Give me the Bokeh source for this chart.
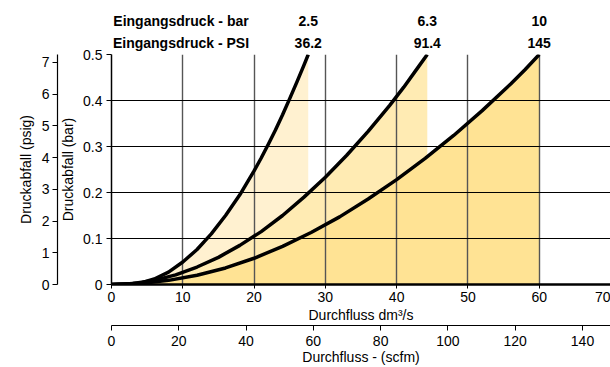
from bokeh.plotting import figure
from bokeh.models import Range1d, LinearAxis, FixedTicker
from bokeh.embed import file_html
from bokeh.resources import INLINE

# ---- data ----
flow_25 = [0, 2, 4, 6, 8, 10, 12, 14, 16, 18, 20, 21, 22, 23, 24, 25, 26, 27, 27.6]
drop_25 = [0, 0.001, 0.003, 0.012, 0.027, 0.049, 0.076, 0.110, 0.150, 0.195, 0.247,
           0.275, 0.305, 0.336, 0.369, 0.404, 0.440, 0.477, 0.5]

flow_63 = [0, 3, 6, 9, 12, 15, 18, 21, 24, 27, 30, 33, 36, 39, 41, 43, 44.3]
drop_63 = [0, 0.002, 0.009, 0.021, 0.038, 0.059, 0.085, 0.115, 0.150, 0.190, 0.233,
           0.281, 0.333, 0.389, 0.429, 0.472, 0.5]

flow_10 = [0, 4, 8, 12, 16, 20, 24, 28, 32, 36, 40, 44, 48, 52, 56, 58, 60]
drop_10 = [0, 0.002, 0.009, 0.020, 0.036, 0.057, 0.083, 0.113, 0.147, 0.186, 0.228,
           0.274, 0.324, 0.378, 0.436, 0.467, 0.5]

inlet_bar = ["2.5", "6.3", "10"]
inlet_psi = ["36.2", "91.4", "145"]
curve_end_flow = [27.6, 44.3, 60]
header_bar = "Eingangsdruck - bar"
header_psi = "Eingangsdruck - PSI"

flow_ticks = [0, 10, 20, 30, 40, 50, 60, 70]
flow_grid = [10, 20, 30, 40, 50, 60]
scfm_ticks = [0, 20, 40, 60, 80, 100, 120, 140]
bar_ticks = [0, 0.1, 0.2, 0.3, 0.4, 0.5]
psig_ticks = [0, 1, 2, 3, 4, 5, 6, 7]

X_END = 70
Y_END = 0.5
BAR_TO_PSI = 14.5038
DM3S_TO_SCFM = 2.11888

FONT = "Liberation Sans"
FS = "14px"
HDR_FS = "14px"

fill_colors = ["#FFF1D0", "#FFEBB3", "#FFE394"]

W, H = 610, 367
LEFT, TOP = 111, 54

p = figure(width=W, height=H, x_range=Range1d(0, X_END), y_range=Range1d(0, Y_END),
           output_backend="svg", toolbar_location=None,
           min_border_left=LEFT, min_border_right=0, min_border_top=TOP, min_border_bottom=80)
p.outline_line_color = None
p.background_fill_color = "white"

p.extra_y_ranges = {"psig": Range1d(0, Y_END * BAR_TO_PSI)}
p.extra_x_ranges = {"scfm": Range1d(0, X_END * DM3S_TO_SCFM)}

# fills (drawn lowest, under the grid)
for fx, fy, col in [(flow_25, drop_25, fill_colors[0]),
                    (flow_63, drop_63, fill_colors[1]),
                    (flow_10, drop_10, fill_colors[2])]:
    p.varea(x=fx, y1=[0] * len(fx), y2=fy, fill_color=col, level="image")

# curves
for fx, fy in [(flow_25, drop_25), (flow_63, drop_63), (flow_10, drop_10)]:
    p.line(fx, fy, line_color="black", line_width=3.5, line_join="round", line_cap="butt")

# grid
p.xgrid.ticker = FixedTicker(ticks=flow_grid)
p.xgrid.grid_line_color = "#555555"
p.xgrid.grid_line_width = 1.4
p.ygrid.ticker = FixedTicker(ticks=bar_ticks)
p.ygrid.grid_line_color = "black"
p.ygrid.grid_line_width = 1


def style_axis(ax, line_width=1.2):
    ax.axis_line_color = "black"
    ax.axis_line_width = line_width
    ax.major_tick_line_color = "black"
    ax.major_tick_out = 5
    ax.major_tick_in = 0
    ax.minor_tick_line_color = None
    ax.major_label_text_font = FONT
    ax.major_label_text_font_size = FS
    ax.major_label_text_color = "black"
    ax.axis_label_text_font = FONT
    ax.axis_label_text_font_size = FS
    ax.axis_label_text_font_style = "normal"
    ax.axis_label_text_color = "black"


# main axes
xa = p.xaxis[0]
xa.ticker = FixedTicker(ticks=flow_ticks)
xa.axis_label = "Durchfluss dm³/s"
style_axis(xa, 2.5)
xa.major_tick_out = 4
xa.major_label_standoff = 3
xa.axis_label_standoff = 2

ya = p.yaxis[0]
ya.ticker = FixedTicker(ticks=bar_ticks)
ya.major_label_overrides = {0: "0"}
ya.axis_label = "Druckabfall (bar)"
style_axis(ya, 1.5)
ya.major_label_standoff = 4
ya.axis_label_standoff = 4

# secondary axes
psig_axis = LinearAxis(y_range_name="psig", ticker=FixedTicker(ticks=psig_ticks),
                       axis_label="Druckabfall (psig)")
style_axis(psig_axis, 1.2)
psig_axis.major_label_standoff = 3
psig_axis.axis_label_standoff = 5
p.add_layout(psig_axis, "left")

scfm_axis = LinearAxis(x_range_name="scfm", ticker=FixedTicker(ticks=scfm_ticks),
                       axis_label="Durchfluss - (scfm)")
style_axis(scfm_axis, 1.2)
scfm_axis.major_label_standoff = 5
scfm_axis.axis_label_standoff = 0
p.add_layout(scfm_axis, "below")

# header rows above the plot, as label-only axes
px_per_unit = (W - LEFT) / X_END
header_center = 69.5 / px_per_unit  # left-aligned header text, expressed as its centre


def header_axis(title, values, standoff):
    ax = LinearAxis(ticker=FixedTicker(ticks=[header_center] + curve_end_flow))
    overrides = {header_center: title}
    for xv, t in zip(curve_end_flow, values):
        overrides[xv] = t
    ax.major_label_overrides = overrides
    ax.axis_line_color = None
    ax.major_tick_line_color = None
    ax.minor_tick_line_color = None
    ax.major_tick_out = 0
    ax.major_tick_in = 0
    ax.major_label_standoff = standoff
    ax.major_label_text_font = FONT
    ax.major_label_text_font_size = HDR_FS
    ax.major_label_text_font_style = "bold"
    ax.major_label_text_color = "black"
    return ax


p.add_layout(header_axis(header_psi, inlet_psi, 4), "above")
p.add_layout(header_axis(header_bar, inlet_bar, 3), "above")

open("out.html", "w").write(file_html(p, INLINE))
